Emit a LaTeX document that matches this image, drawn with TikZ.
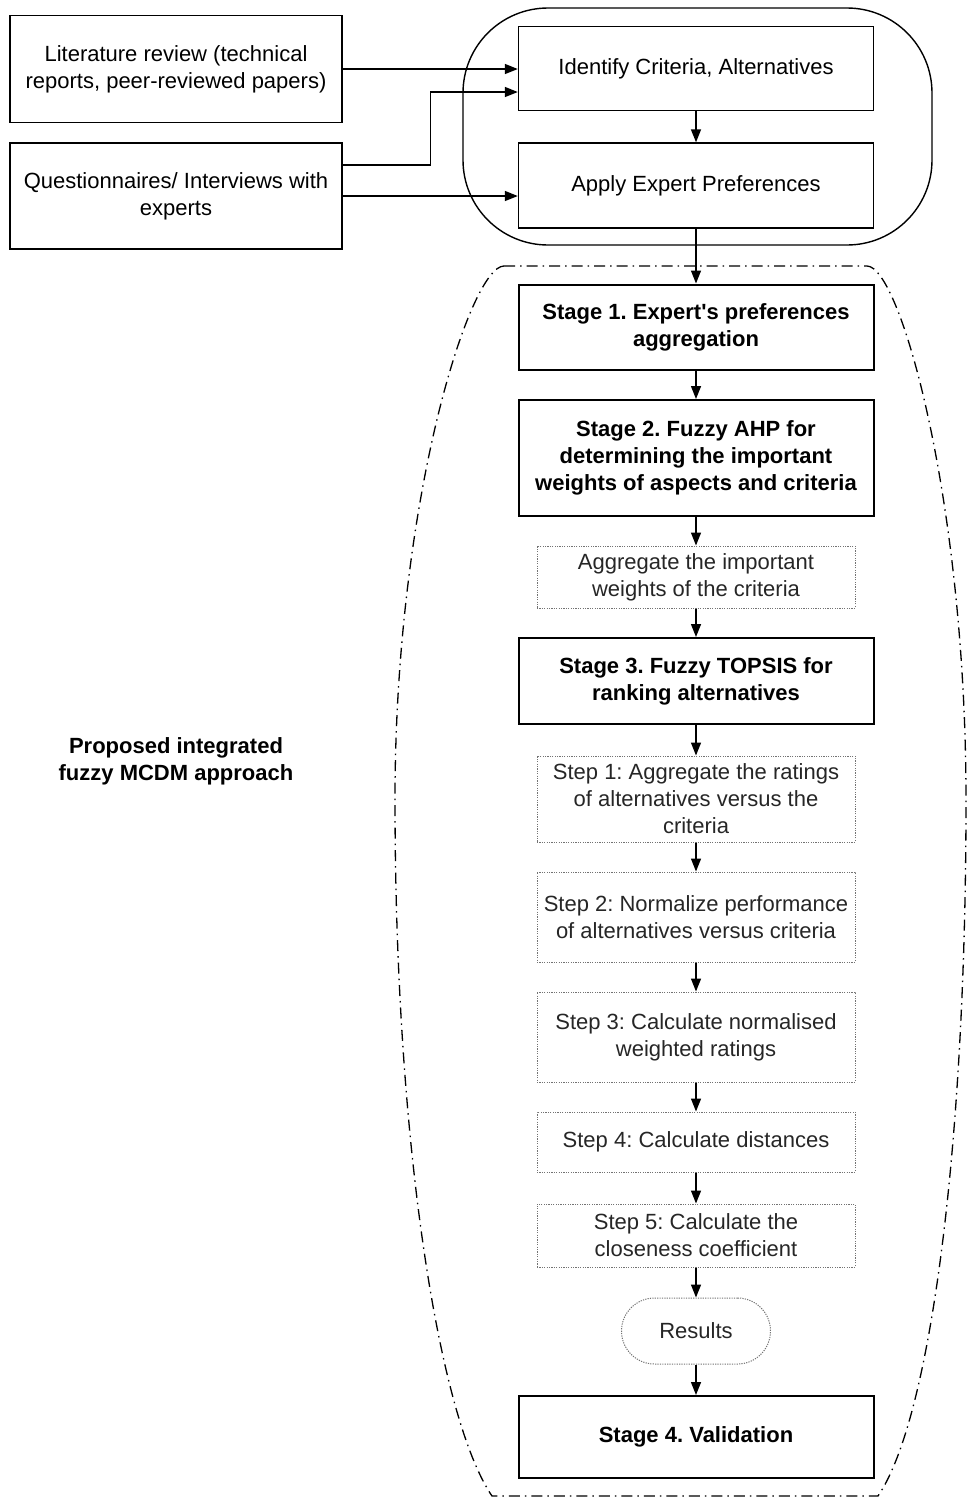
\documentclass[tikz,border=0pt]{standalone}
\usepackage{fontspec}
\setmainfont{Liberation Sans}
\usetikzlibrary{arrows.meta}
\frenchspacing
\tikzset{
  txt/.style={font=\fontsize{22}{27}\selectfont, align=center, inner sep=0pt},
  inbox/.style={txt, draw, line width=1.4pt, minimum width=#1},
  stagebox/.style={txt, draw, line width=2pt, minimum width=355pt, font=\fontsize{22}{27}\selectfont\bfseries},
  stepbox/.style={txt, draw=black!55, line width=1pt, dash pattern=on 1.2pt off 1.2pt, minimum width=318pt, text=black!85},
  flow/.style={line width=1.4pt, -{Triangle[length=13pt,width=10pt]}}
}
\begin{document}
\begin{tikzpicture}[x=1pt, y=-1pt]
\useasboundingbox (0,0) rectangle (967,1500);
\node[inbox=332pt, minimum height=107pt] (lit) at (176,69) {Literature review (technical\\reports, peer-reviewed papers)};
\node[inbox=332pt, minimum height=106pt] (quest) at (176,196) {Questionnaires/ Interviews with\\experts};
\node[inbox=355pt, minimum height=84pt] (ident) at (696,68.5) {Identify Criteria, Alternatives};
\node[inbox=355pt, minimum height=85pt] (apply) at (696,185.5) {Apply Expert Preferences};
\draw[line width=1.4pt, rounded corners=85pt] (463,8) rectangle (932,245);

\node[stagebox, minimum height=85pt] (s1) at (696,327) {Stage 1. Expert\textquotesingle s preferences\\aggregation};
\node[stagebox, minimum height=116pt] (s2) at (696,458) {Stage 2. Fuzzy AHP for\\determining the important\\weights of aspects and criteria};
\node[stepbox, minimum height=62pt] (agg) at (696,577) {Aggregate the important\\weights of the criteria};
\node[stagebox, minimum height=86pt] (s3) at (696,681) {Stage 3. Fuzzy TOPSIS for\\ranking alternatives};
\node[stepbox, minimum height=86pt] (st1) at (696,799) {Step 1: Aggregate the ratings\\of alternatives versus the\\criteria};
\node[stepbox, minimum height=90pt] (st2) at (696,917) {Step 2: Normalize performance\\of alternatives versus criteria};
\node[stepbox, minimum height=90pt] (st3) at (696,1037) {Step 3: Calculate normalised\\weighted ratings};
\node[stepbox, minimum height=60pt] (st4) at (696,1142) {Step 4: Calculate distances};
\node[stepbox, minimum height=63pt] (st5) at (696,1235.5) {Step 5: Calculate the\\closeness coefficient};
\node[stepbox, minimum width=149pt, minimum height=66pt, rounded corners=33pt] (res) at (696,1331) {Results};
\node[stagebox, minimum height=82pt] (s4) at (696,1437) {Stage 4. Validation};

\node[txt, font=\fontsize{22}{27}\selectfont\bfseries] (approach) at (176,761) {Proposed integrated\\fuzzy MCDM approach};

\draw[line width=1.3pt, dash pattern=on 11pt off 5pt on 1.5pt off 5pt]
  (504,266) -- (867,266) .. controls (900,266) and (966,500) .. (966,800)
  .. controls (966,1150) and (930,1420) .. (878,1496) -- (492,1496)
  .. controls (440,1420) and (395,1150) .. (395,800)
  .. controls (395,500) and (470,266) .. (504,266) -- cycle;

\draw[flow] (lit.east) -- (lit.east -| ident.west);
\draw[flow] ([yshift=31pt]quest.east) -- ++(88,0) |- ([yshift=-23.5pt]ident.west);
\draw[flow] (quest.east) -- (quest.east -| apply.west);
\foreach \a/\b in {ident/apply, apply/s1, s1/s2, s2/agg, agg/s3, s3/st1, st1/st2, st2/st3, st3/st4, st4/st5, st5/res, res/s4}
  \draw[flow] (\a) -- (\b);
\end{tikzpicture}
\end{document}
